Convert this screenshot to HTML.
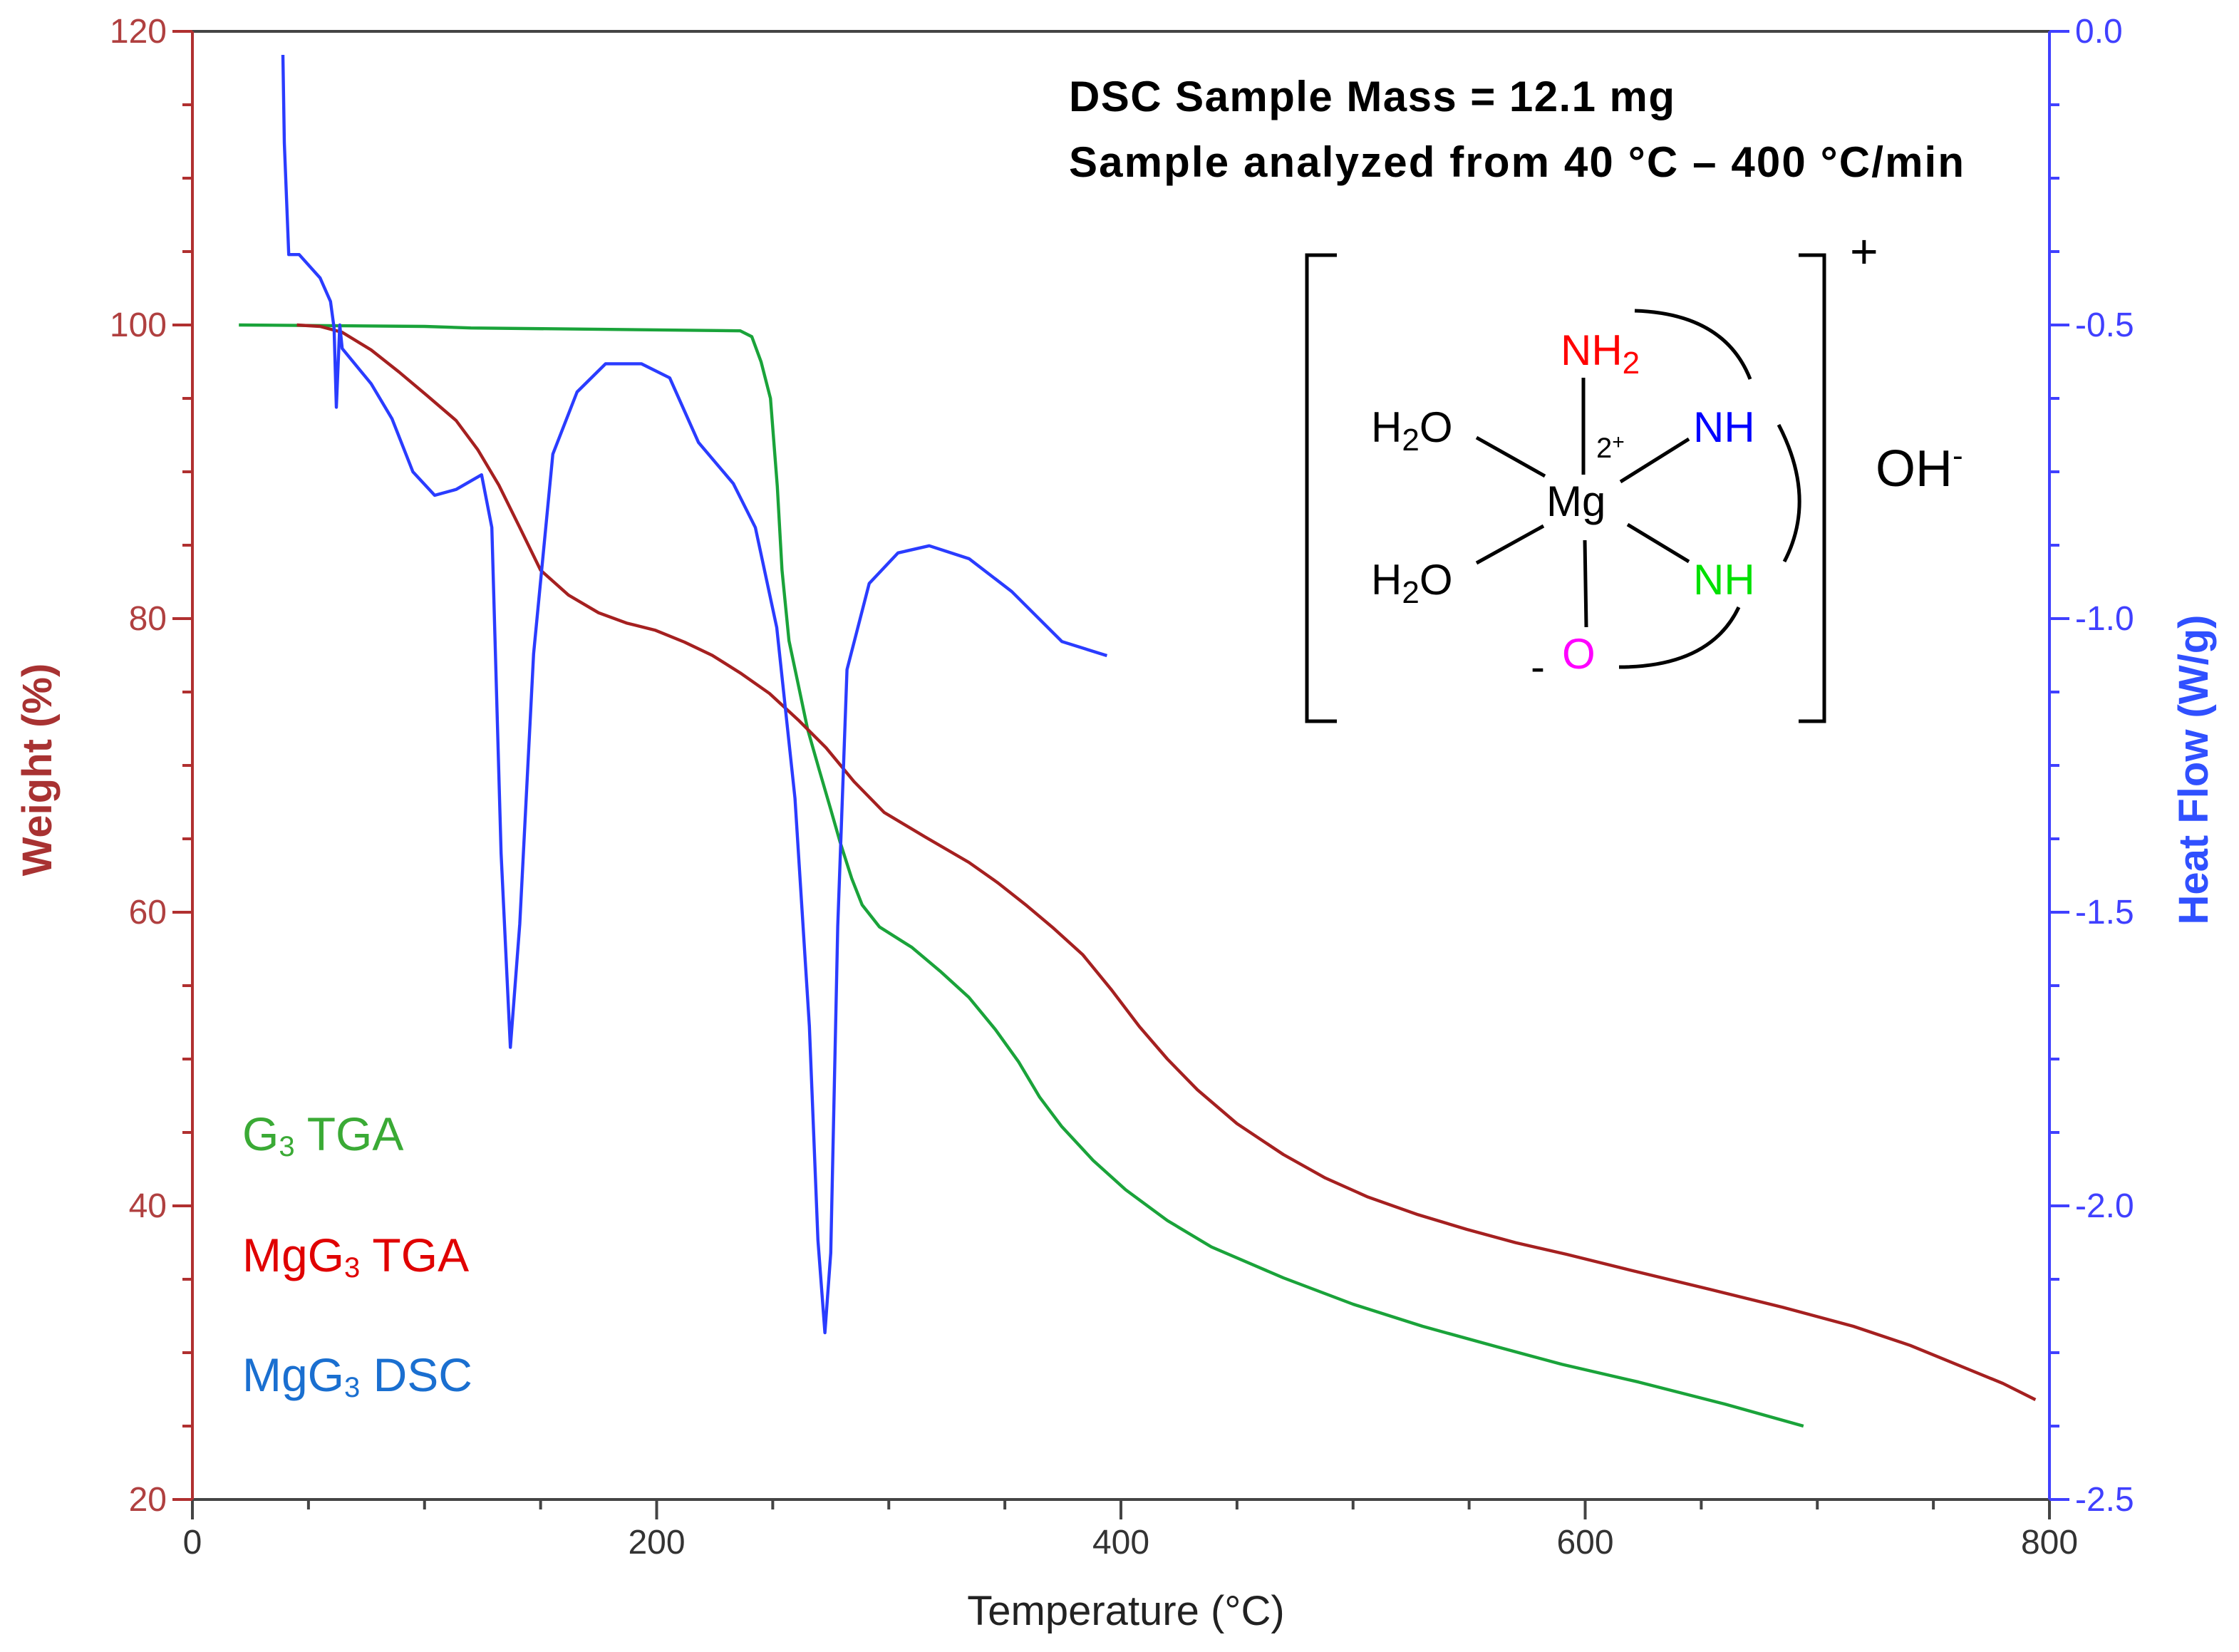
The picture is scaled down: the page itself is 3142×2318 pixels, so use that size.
<!DOCTYPE html>
<html><head><meta charset="utf-8"><style>
html,body{margin:0;padding:0;background:#fff;}
svg{display:block;}
text{font-family:"Liberation Sans",sans-serif;}
</style></head><body>
<svg id="chart" width="3142" height="2318" viewBox="0 0 1571 1159" xmlns="http://www.w3.org/2000/svg">
<g id="axes"></g>
<g id="series"></g>
<g font-weight="bold" font-size="30" fill="#000">
<text x="750" y="78" textLength="425" lengthAdjust="spacing">DSC Sample Mass = 12.1 mg</text>
<text x="750" y="124" textLength="628" lengthAdjust="spacing">Sample analyzed from 40 °C – 400 °C/min</text>
</g>
<g font-size="33">
<text x="170" y="807" fill="#3aaa35">G<tspan font-size="20" dy="4">3</tspan><tspan dy="-4"> TGA</tspan></text>
<text x="170" y="892" fill="#e00000">MgG<tspan font-size="20" dy="4">3</tspan><tspan dy="-4"> TGA</tspan></text>
<text x="170" y="976" fill="#1a6fd0">MgG<tspan font-size="20" dy="4">3</tspan><tspan dy="-4"> DSC</tspan></text>
</g>
<g stroke="#000" stroke-width="2.5" fill="none">
<path d="M938 179 H917 V506 H938"/>
<path d="M1262 179 H1280 V506 H1262"/>
<line x1="1111" y1="265" x2="1111" y2="333"/>
<line x1="1112" y1="379" x2="1113" y2="440"/>
<line x1="1036" y1="307" x2="1084" y2="334"/>
<line x1="1036" y1="395" x2="1083" y2="369"/>
<line x1="1185" y1="308" x2="1137" y2="338"/>
<line x1="1142" y1="368" x2="1185" y2="394"/>
<path d="M1147 218 Q1210 220 1228 266"/>
<path d="M1248 298 Q1275 350 1252 394"/>
<path d="M1220 426 Q1200 468 1136 468"/>
</g>
<g font-size="30">
<text x="1095" y="256" fill="#ff0000">NH<tspan font-size="22" dy="6">2</tspan></text>
<text x="1085" y="362" fill="#000">Mg</text>
<text x="1120" y="321" fill="#000" font-family="Liberation Serif,serif" font-size="20">2<tspan dy="-6" font-size="15">+</tspan></text>
<text x="962" y="310" fill="#000">H<tspan font-size="22" dy="6">2</tspan><tspan dy="-6">O</tspan></text>
<text x="962" y="417" fill="#000">H<tspan font-size="22" dy="6">2</tspan><tspan dy="-6">O</tspan></text>
<text x="1188" y="310" fill="#0000ff">NH</text>
<text x="1188" y="417" fill="#00e000">NH</text>
<text x="1096" y="469" fill="#ff00ff">O</text>
<text x="1074" y="478" fill="#000">-</text>
<text x="1298" y="188" fill="#000" font-family="Liberation Serif,serif" font-size="34">+</text>
<text x="1316" y="341" fill="#000" font-family="Liberation Serif,serif" font-size="36">OH<tspan font-size="22" dy="-14">-</tspan></text>
</g>
</svg>
<script>
// data
const tempTicks = [0, 200, 400, 600, 800];
const weightTicks = [20, 40, 60, 80, 100, 120];
const heatTicks = [0.0, -0.5, -1.0, -1.5, -2.0, -2.5];
const heatTickLabels = ["0.0", "-0.5", "-1.0", "-1.5", "-2.0", "-2.5"];
const g3Temp = [20, 100, 120, 180, 236, 241, 245, 249, 252, 254, 257, 261, 265, 270, 275, 279, 284, 288.5, 296, 310, 322, 334.5, 346, 356, 365, 374.5, 388, 402, 420, 439, 470, 500, 530, 562, 590, 623, 660, 694];
const g3Weight = [100, 99.9, 99.8, 99.7, 99.6, 99.2, 97.5, 95, 89, 83.3, 78.5, 75.5, 72.5, 69.7, 67, 64.8, 62.3, 60.5, 59, 57.6, 56, 54.2, 52, 49.8, 47.4, 45.4, 43.1, 41.1, 39, 37.2, 35.1, 33.3, 31.8, 30.4, 29.2, 28, 26.5, 25];
const mgTemp = [45, 55, 64.5, 77, 89, 101, 113.6, 123, 132, 141, 150, 162, 175, 187, 199.5, 212, 224, 236, 248.6, 261, 273, 285, 298, 316, 334.5, 347, 359, 371, 383.6, 396, 408, 420, 433, 450, 470, 488, 506.4, 528, 549, 570, 592, 620, 654, 685, 715.5, 740, 764.6, 780, 794];
const mgWeight = [100, 99.9, 99.5, 98.3, 96.8, 95.2, 93.5, 91.5, 89.1, 86.2, 83.3, 81.6, 80.4, 79.7, 79.2, 78.4, 77.5, 76.3, 74.9, 73.1, 71.2, 68.9, 66.8, 65.1, 63.4, 62, 60.5, 58.9, 57.1, 54.7, 52.2, 50, 47.9, 45.6, 43.5, 41.9, 40.6, 39.4, 38.4, 37.5, 36.7, 35.6, 34.3, 33.1, 31.8, 30.5, 28.9, 27.9, 26.8];
const dscTemp = [39, 39.6, 41.5, 46, 55, 59.5, 61, 62, 63.5, 64.5, 77, 86, 95, 104.4, 113.6, 124.6, 129, 133, 137, 141, 147, 155.3, 165.7, 178, 193.4, 205.6, 218, 233, 242.5, 251.7, 259.6, 265.8, 269.5, 272.5, 275, 278, 282, 291.6, 304, 317.4, 334.6, 353, 374.6, 394];
const dscHeat = [-0.04, -0.19, -0.38, -0.38, -0.42, -0.46, -0.505, -0.64, -0.5, -0.54, -0.6, -0.66, -0.75, -0.79, -0.78, -0.755, -0.845, -1.40, -1.73, -1.52, -1.06, -0.72, -0.614, -0.566, -0.566, -0.59, -0.70, -0.77, -0.845, -1.015, -1.306, -1.694, -2.058, -2.216, -2.08, -1.524, -1.087, -0.94, -0.888, -0.876, -0.898, -0.954, -1.039, -1.063];

const L = 135, R = 1438, T = 22, B = 1052;
const xS = t => L + (t - 0) / 800 * (R - L);
const yW = w => B - (w - 20) / 100 * (B - T);
const yH = h => T + (-h) / 2.5 * (B - T);
const NS = "http://www.w3.org/2000/svg";
function mk(tag, attrs, parent) {
  const e = document.createElementNS(NS, tag);
  for (const k in attrs) e.setAttribute(k, attrs[k]);
  parent.appendChild(e);
  return e;
}
const axes = document.getElementById('axes');
const series = document.getElementById('series');

let e;
e = mk('line', {x1: L, y1: T, x2: R, y2: T, stroke: '#444', 'stroke-width': 2}, axes);


e = mk('line', {x1: L, y1: B, x2: R, y2: B, stroke: '#444', 'stroke-width': 2}, axes);


e = mk('line', {x1: L, y1: T, x2: L, y2: B, stroke: '#b03030', 'stroke-width': 2}, axes);


e = mk('line', {x1: R, y1: T, x2: R, y2: B, stroke: '#4040ff', 'stroke-width': 2}, axes);



for (let t = 0; t <= 800; t += 50) {
  const major = t % 200 === 0;
  mk('line', {x1: xS(t), y1: B, x2: xS(t), y2: B + (major ? 14 : 7), stroke: '#444', 'stroke-width': 2}, axes);
}
tempTicks.forEach(t => {
  e = mk('text', {x: xS(t), y: B + 38, 'text-anchor': 'middle', 'font-size': 24, fill: '#333'}, axes);
  e.textContent = t;
  
  
});
for (let w = 20; w <= 120; w += 5) {
  const major = w % 20 === 0;
  mk('line', {x1: L - (major ? 14 : 7), y1: yW(w), x2: L, y2: yW(w), stroke: '#b03030', 'stroke-width': 2}, axes);
}
weightTicks.forEach(w => {
  e = mk('text', {x: L - 18, y: yW(w) + 8, 'text-anchor': 'end', 'font-size': 24, fill: '#b04040'}, axes);
  e.textContent = w;
  
  
});
for (let i = 0; i <= 20; i++) {
  const h = -i * 0.125;
  const major = i % 4 === 0;
  mk('line', {x1: R, y1: yH(h), x2: R + (major ? 14 : 7), y2: yH(h), stroke: '#4040ff', 'stroke-width': 2}, axes);
}
heatTicks.forEach((h, i) => {
  e = mk('text', {x: R + 18, y: yH(h) + 8, 'text-anchor': 'start', 'font-size': 24, fill: '#4040ff'}, axes);
  e.textContent = heatTickLabels[i];
  
  
});
e = mk('text', {x: 790, y: 1140, 'text-anchor': 'middle', 'font-size': 29, fill: '#222'}, axes);
e.textContent = 'Temperature (°C)';


e = mk('text', {x: 0, y: 0, 'text-anchor': 'middle', 'font-size': 29, 'font-weight': 'bold', fill: '#a83232', transform: 'translate(36,540) rotate(-90)'}, axes);
e.textContent = 'Weight (%)';


e = mk('text', {x: 0, y: 0, 'text-anchor': 'middle', 'font-size': 29, 'font-weight': 'bold', fill: '#3050ff', transform: 'translate(1549,540) rotate(-90)'}, axes);
e.textContent = 'Heat Flow (W/g)';



function pathFrom(xs, ys, fy) {
  return xs.map((t, i) => (i ? 'L' : 'M') + xS(t).toFixed(1) + ' ' + fy(ys[i]).toFixed(1)).join(' ');
}
e = mk('path', {d: pathFrom(g3Temp, g3Weight, yW), fill: 'none', stroke: '#1aa33a', 'stroke-width': 2.2, 'stroke-linejoin': 'round'}, series);


e = mk('path', {d: pathFrom(mgTemp, mgWeight, yW), fill: 'none', stroke: '#a52020', 'stroke-width': 2.2, 'stroke-linejoin': 'round'}, series);


e = mk('path', {d: pathFrom(dscTemp, dscHeat, yH), fill: 'none', stroke: '#2a3cff', 'stroke-width': 2.2, 'stroke-linejoin': 'round'}, series);


</script>
</body></html>
